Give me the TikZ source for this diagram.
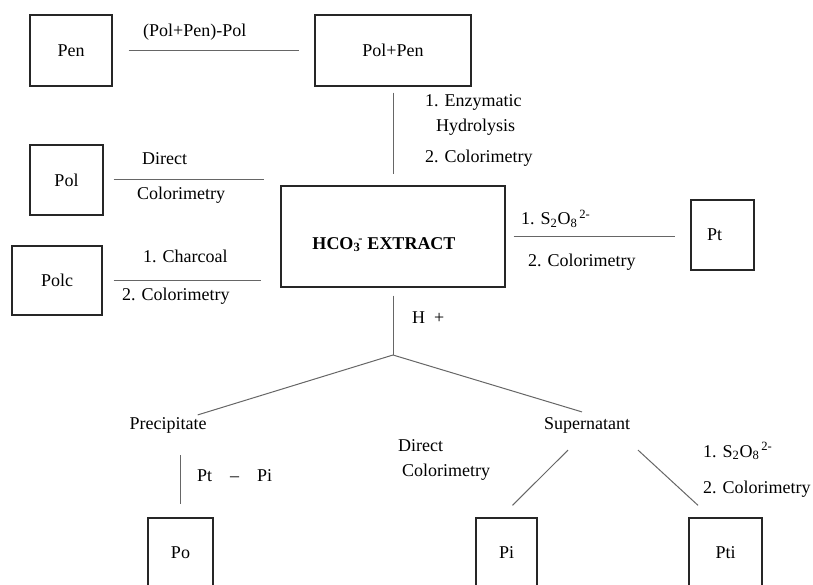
\documentclass[tikz,border=0pt]{standalone}
\usepackage{fontspec}
\setmainfont{Liberation Serif}
\usetikzlibrary{positioning}

\tikzset{
	box/.style={draw=black!85, line width=1.3pt, inner sep=0pt},
	link/.style={draw=black!60, line width=1pt},
	lbl/.style={inner sep=0pt, anchor=base west},
	stage/.style={inner sep=2pt},
}

\begin{document}
\begin{tikzpicture}[x=1pt, y=-1pt, font=\fontsize{18}{22}\selectfont]
	\clip (0,0) rectangle (813,585);

	% Boxes
	\node[box, minimum width=82, minimum height=71] (pen) at (71,50.5) {Pen};
	\node[box, minimum width=156, minimum height=71] (polpen) at (393,50.5) {Pol+Pen};
	\node[box, minimum width=73, minimum height=70] (pol) at (66.5,180) {Pol};
	\node[box, minimum width=90, minimum height=69] (polc) at (57,280.5) {Polc};
	\node[box, minimum width=224, minimum height=101, text height=25pt, text depth=0pt,
		font=\fontsize{18}{22}\selectfont\bfseries] (extract) at (393,236.5)
		{HCO\textsubscript{3}\kern-2pt\textsuperscript{-} EXTRACT\hspace*{18pt}};
	\node[box, minimum width=63, minimum height=70] (pt) at (722.5,235) {Pt\hspace*{16pt}};
	\node[box, minimum width=65, minimum height=70] (po) at (180.5,553) {Po};
	\node[box, minimum width=61, minimum height=70] (pi) at (506.5,553) {Pi};
	\node[box, minimum width=73, minimum height=70] (pti) at (725.5,553) {Pti};

	% Fractions after acidification
	\node[stage] (prec) at (168,425) {Precipitate};
	\node[stage] (super) at (587,425) {Supernatant};
	\coordinate (fork) at (393,355);

	% Connectors
	\draw[link] ([xshift=16pt]pen.east) -- ([xshift=-15pt]polpen.west);
	\draw[link] ([yshift=-6pt]polpen.south) -- ([yshift=11pt]extract.north);
	\draw[link, shorten >=16pt] ([xshift=10pt]pol.east) -- (pol.east -| extract.west);
	\draw[link, shorten >=19pt] ([xshift=11pt]polc.east) -- (polc.east -| extract.west);
	\draw[link] ([xshift=8pt]extract.east) -- ([xshift=-15pt]extract.east -| pt.west);
	\draw[link] ([yshift=-8pt]extract.south) -- (fork);
	\draw[link] (fork) -- ([xshift=-11pt]prec.north east);
	\draw[link] (fork) -- ([xshift=-5pt,yshift=3pt]super.north);
	\draw[link] ([yshift=-20pt]prec.south -| po.north) -- ([yshift=13pt]po.north);
	\draw[link] ([shift={(-19pt,-15pt)}]super.south) -- ([shift={(6pt,12pt)}]pi.north);
	\draw[link] ([shift={(51pt,-15pt)}]super.south) -- ([shift={(-27.5pt,12pt)}]pti.north);

	% Connector labels
	\node[lbl] (difflbl) at (143,37) {(Pol+Pen)-Pol};
	\node[lbl] (enzlbl) at (425,107) {1. Enzymatic};
	\node[lbl] (hydlbl) at (436,132) {Hydrolysis};
	\node[lbl] (enzcol) at (425,163) {2. Colorimetry};
	\node[lbl] (dirlbl) at (142,165) {Direct};
	\node[lbl] (dircol) at (137,200) {Colorimetry};
	\node[lbl] (chlbl) at (143,262) {1. Charcoal};
	\node[lbl] (chcol) at (122,300) {2. Colorimetry};
	\node[lbl] (oxlbl) at (521,225) {1. S\textsubscript{2}O\textsubscript{8}\textsuperscript{\,2-}};
	\node[lbl] (oxcol) at (528,266) {2. Colorimetry};
	\node[lbl] (acid) at (412,323) {H\ \ +};
	\node[lbl] (difflow) at (197,481) {Pt\quad\textendash\quad Pi};
	\node[lbl] (dirlow) at (398,451) {Direct};
	\node[lbl] (dircollow) at (402,476) {Colorimetry};
	\node[lbl] (oxlow) at (703,457) {1. S\textsubscript{2}O\textsubscript{8}\textsuperscript{\,2-}};
	\node[lbl] (oxcollow) at (703,493) {2. Colorimetry};
\end{tikzpicture}
\end{document}
